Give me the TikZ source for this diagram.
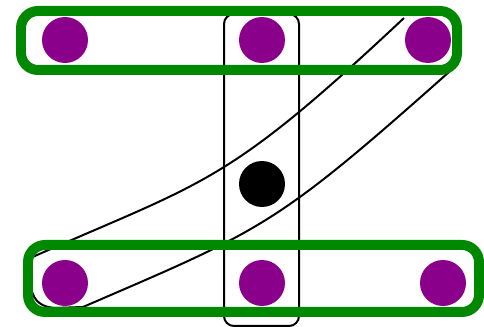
\documentclass[tikz,border=0pt]{standalone}
\usetikzlibrary{positioning}

\definecolor{edgeGreen}{RGB}{0,137,0}
\definecolor{vertPurple}{RGB}{139,0,139}

\begin{document}
\begin{tikzpicture}[
		x=0.02cm, y=-0.02cm,
		% Vertex styles
		vertex/.style={circle, fill=vertPurple, inner sep=0pt, minimum size=0.92cm},
		centerVertex/.style={vertex, fill=black},
		% Hyperedge styles
		greenEdge/.style={draw=edgeGreen, line width=0.2cm, rounded corners=0.34cm},
		blackEdge/.style={draw=black, line width=0.04cm, rounded corners=0.2cm},
		bandEdge/.style={draw=black, line width=0.04cm, line join=round}
		]
		
		\useasboundingbox (0,0) rectangle (484,327);
		
		% =========================================================
		% VERTICES
		% =========================================================
		\node[vertex] (TopLeft) at (65,40) {};
		\node[vertex] (TopMid) at (262,40) {};
		\node[vertex] (TopRight) at (428,40) {};
		
		\node[centerVertex] (Center) at (262,184) {};
		
		\node[vertex] (BotLeft) at (65,283) {};
		\node[vertex] (BotMid) at (262,283) {};
		\node[vertex] (BotRight) at (443,283) {};
		
		% =========================================================
		% BLACK HYPEREDGES
		% =========================================================
		% Vertical edge through the middle column
		\draw[blackEdge] (224,14) rectangle (299,326);
		
		% Diagonal band from top right to bottom left
		\draw[bandEdge] (404,18) .. controls (225,186) and (207,180) .. (28,259)
			-- (31,288) .. controls (34,302) and (42,307) .. (55,308)
			-- (83,307) .. controls (266,228) and (275,227) .. (458,64);
		
		% =========================================================
		% GREEN HYPEREDGES
		% =========================================================
		\draw[greenEdge] (21,11) rectangle (457,70);
		\draw[greenEdge] (28,245) rectangle (479,312);
		
	\end{tikzpicture}
\end{document}
